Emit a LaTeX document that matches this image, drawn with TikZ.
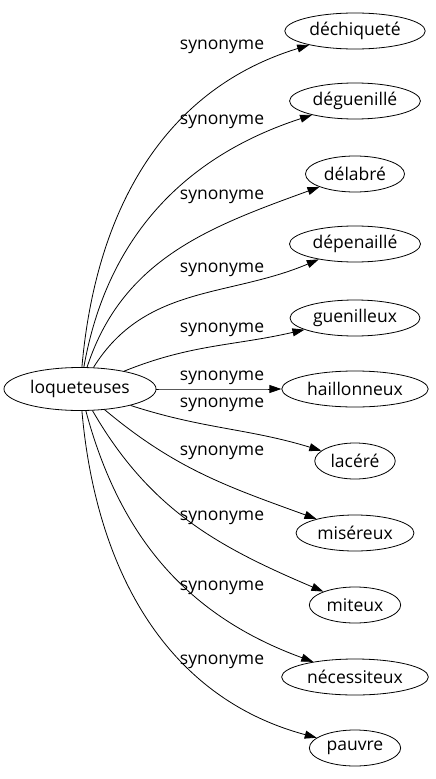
\documentclass[tikz,border=0pt]{standalone}
\usepackage{fontspec}
\setmainfont{Open Sans}
\usetikzlibrary{shapes.geometric,arrows.meta}

\tikzset{
    word/.style={draw,ellipse,inner xsep=4pt,inner ysep=0pt,minimum height=36pt,
        font=\fontsize{17.5}{20}\selectfont},
    syn/.style={inner sep=0pt,font=\fontsize{17.5}{20}\selectfont},
    rel/.style={-{Triangle[length=12pt,width=8pt]}},
}

\begin{document}
\begin{tikzpicture}[x=1pt,y=1pt,line width=0.8pt]
    \useasboundingbox (0,-779) rectangle (436,0);

    \node[word,minimum height=43pt] (loq) at (80,-389) {loqueteuses};

    \foreach\k/\w/\y/\o/\i/\ly in {
        1/déchiqueté/31/85/197/47,
        2/déguenillé/101/80/198/122,
        3/délabré/174/72/200/197,
        4/dépenaillé/244/58/203/270,
        5/guenilleux/318/22/193/330,
        6/haillonneux/389/0/180/378,
        7/lacéré/461/-18/163/405,
        8/miséreux/533/-40/160/453,
        9/miteux/605/-60/157/518,
        10/nécessiteux/677/-75/160/588,
        11/pauvre/748/-85/165/662}{
        \node[word] (w\k) at (355,-\y) {\w};
        \draw[rel] (loq) to[out=\o,in=\i] (w\k);
        \node[syn] (l\k) at (222,-\ly) {synonyme};
    }
\end{tikzpicture}
\end{document}
